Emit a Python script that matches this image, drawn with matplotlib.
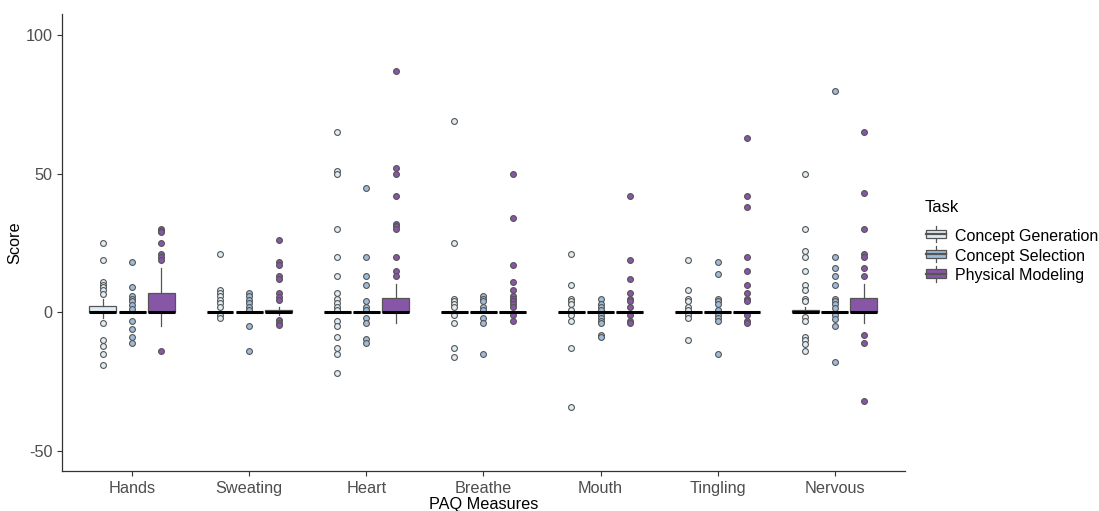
import numpy as np
import matplotlib
matplotlib.use("Agg")
import matplotlib.pyplot as plt
from matplotlib.legend_handler import HandlerBase
from matplotlib.patches import Rectangle, Patch
from matplotlib.lines import Line2D

plt.rcParams['font.family'] = ['Liberation Sans', 'DejaVu Sans']

measures = ['Hands', 'Sweating', 'Heart', 'Breathe', 'Mouth', 'Tingling', 'Nervous']
tasks = ['Concept Generation', 'Concept Selection', 'Physical Modeling']
colors = ['#e0ecf4', '#9ebcda', '#8856a7']

# box statistics per task, one value per measure
cg_q1 = [0, 0, 0, 0, 0, 0, 0]
cg_med = [0, 0, 0, 0, 0, 0, 0]
cg_q3 = [2.3, 0, 0, 0, 0, 0, 1]
cg_whislo = [-2, 0, 0, 0, 0, 0, 0]
cg_whishi = [5, 0, 0, 0, 0, 0, 1.9]
cg_fliers = [
    [25, 19, 11, 10, 9, 8, 6.5, -4, -10, -12, -15, -19],
    [21, 8, 7, 6, 4.5, 3.5, 2, -1, -2],
    [65, 51, 50, 30, 20, 13, 7, 5, 3.5, 2, 1, -3, -5, -9, -13, -15, -22],
    [69, 25, 5, 4, 3, 2, -1, -4, -13, -16],
    [21, 10, 5, 4, 3, 1, -1, -3, -13, -34],
    [19, 8, 5, 4, 2, 1, -1, -2, -10],
    [50, 30, 22, 20, 15, 10, 8, 5, 4, -1.7, -3, -9, -10, -11.5, -14],
]

cs_q1 = [0, 0, 0, 0, 0, 0, 0]
cs_med = [0, 0, 0, 0, 0, 0, 0]
cs_q3 = [0, 0, 0, 0, 0, 0, 0]
cs_whislo = [0, 0, 0, 0, 0, 0, 0]
cs_whishi = [0, 0, 0, 0, 0, 0, 0]
cs_fliers = [
    [18, 9, 6, 5, 4, 2.5, 1.3, -3, -6, -9, -11],
    [7, 6, 4.5, 3.5, 2, 1, -5, -14],
    [45, 20, 13, 10, 4, 2, 1, -2, -4, -9.5, -11],
    [6, 5, 4, 2, 1, -2, -4, -15],
    [5, 3, 2, 1, -1, -2, -3, -4, -8, -9],
    [18, 14, 5, 4, 3, 1, -1, -2, -3, -15],
    [80, 20, 16, 13, 10, 5, 4, 3, 1.5, -1, -2.5, -5, -18],
]

pm_q1 = [0, 0, 0, 0, 0, 0, 0]
pm_med = [0, 0, 0, 0, 0, 0, 0]
pm_q3 = [6.9, 0.9, 5.1, 0, 0, 0, 5.1]
pm_whislo = [-4.9, -1, -4, 0, 0, 0, -3.9]
pm_whishi = [16, 2, 10.1, 0, 0, 0, 10.1]
pm_fliers = [
    [30, 29.5, 29, 25, 21, 20, 19, -14],
    [26, 18, 17, 13, 12, 7, 5.5, 4.3, -2.6, -3.7, -4.4],
    [87, 52, 50, 42, 32, 31, 30, 20, 15, 13],
    [50, 34, 17, 11, 8, 6, 5, 4, 3, 2, -1, -3],
    [42, 19, 12, 7, 5, 4, 2, -1, -3, -4],
    [63, 42, 38, 20, 15, 10, 7, 5, 4, -1, -3, -4],
    [65, 43, 30, 21, 20, 16, 13, -8, -11, -32],
]

groups = [
    (cg_q1, cg_med, cg_q3, cg_whislo, cg_whishi, cg_fliers),
    (cs_q1, cs_med, cs_q3, cs_whislo, cs_whishi, cs_fliers),
    (pm_q1, pm_med, pm_q3, pm_whislo, pm_whishi, pm_fliers),
]

edge = '#555555'

fig = plt.figure(figsize=(10.99, 5.11), dpi=100)
ax = fig.add_axes([0.0564, 0.0783, 0.767, 0.8943])

x = np.arange(1, len(measures) + 1)
offsets = [-0.25, 0, 0.25]

for (q1, med, q3, wlo, whi, fl), off, col in zip(groups, offsets, colors):
    stats = []
    for i in range(len(measures)):
        stats.append(dict(q1=q1[i], med=med[i], q3=q3[i], whislo=wlo[i],
                          whishi=whi[i], fliers=fl[i]))
    ax.bxp(stats, positions=x + off, widths=0.23, patch_artist=True,
           showcaps=False, manage_ticks=False,
           boxprops=dict(facecolor=col, edgecolor=edge, linewidth=0.9),
           medianprops=dict(color='black', linewidth=2.2, solid_capstyle='butt'),
           whiskerprops=dict(color=edge, linewidth=0.9),
           flierprops=dict(marker='o', markerfacecolor=col, markeredgecolor=edge,
                           markersize=4.2, markeredgewidth=0.8, linestyle='none'))

ax.set_xlim(0.4, 7.6)
ax.set_ylim(-57.2, 107.6)
ax.set_xticks(x)
ax.set_xticklabels(measures)
ax.set_yticks([-50, 0, 50, 100])
ax.set_yticklabels(['-50', '0', '50', '100'])
for s in ['top', 'right']:
    ax.spines[s].set_visible(False)
for s in ['left', 'bottom']:
    ax.spines[s].set_color('#333333')
    ax.spines[s].set_linewidth(0.9)
ax.tick_params(colors='#333333', labelcolor='#4d4d4d', labelsize=11.7, length=3.5, width=0.8)
ax.set_xlabel('PAQ Measures', fontsize=11.7, labelpad=1)
ax.set_ylabel('Score', fontsize=11.7, labelpad=2)


class BoxKey(HandlerBase):
    def create_artists(self, legend, orig, xd, yd, w, h, fontsize, trans):
        col = orig.get_facecolor()
        cx = xd + w / 2
        line = Line2D([cx, cx], [yd - 0.15 * h, yd + 1.15 * h], color=edge, lw=0.9,
                      transform=trans)
        rect = Rectangle((xd, yd + 0.15 * h), w, 0.7 * h, facecolor=col,
                         edgecolor=edge, lw=0.9, transform=trans)
        med = Line2D([xd, xd + w], [yd + h / 2, yd + h / 2], color=edge, lw=1.6,
                     transform=trans)
        return [line, rect, med]


handles = [Patch(facecolor=c, edgecolor=edge) for c in colors]
fig.text(0.8415, 1 - 208 / 511, 'Task', fontsize=12, va='center', ha='left')
leg = fig.legend(handles, tasks, handler_map={Patch: BoxKey()},
                 loc='center left', bbox_to_anchor=(0.843, 0.499), frameon=False,
                 fontsize=11.5, handlelength=1.2, handleheight=0.8,
                 handletextpad=0.6, labelspacing=0.3, borderaxespad=0,
                 borderpad=0)

fig.savefig('out.png', dpi=100)
